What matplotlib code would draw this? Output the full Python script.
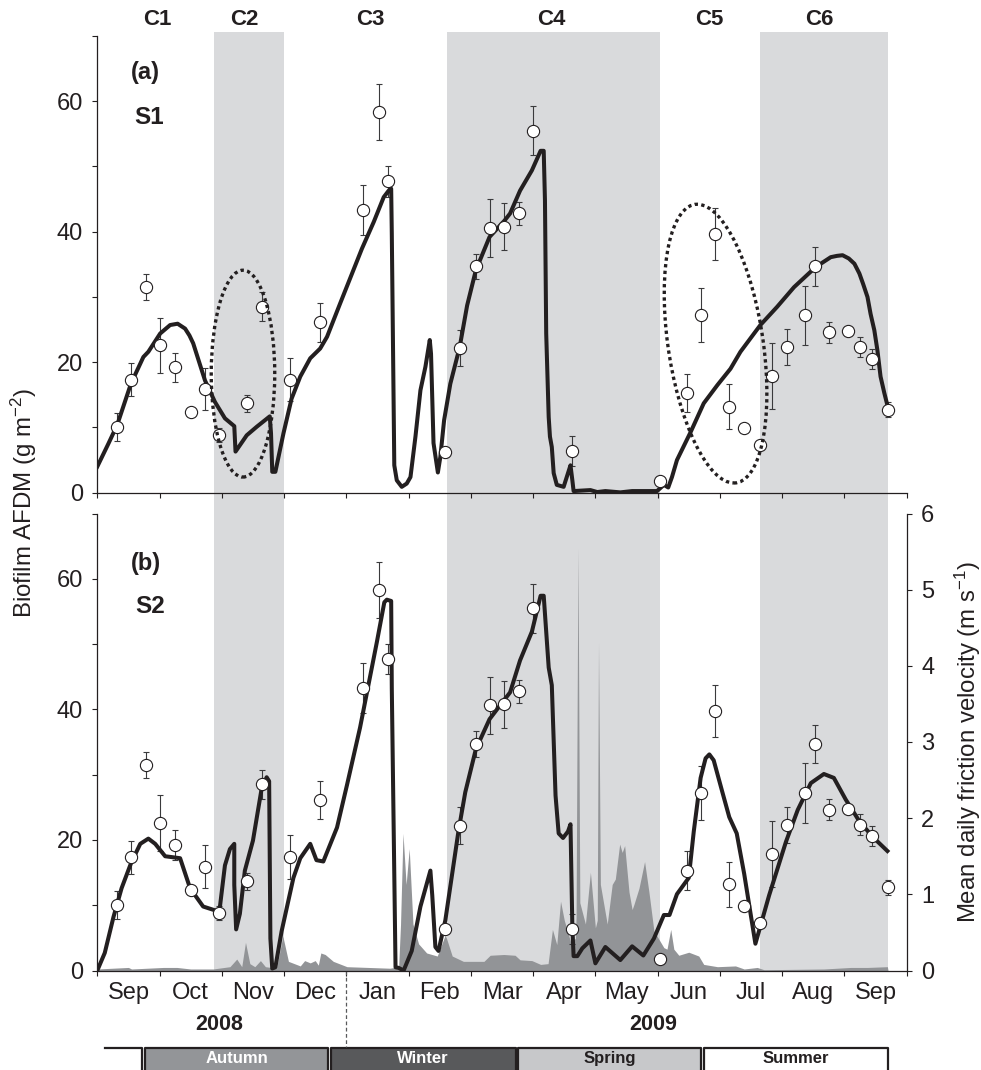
import matplotlib
matplotlib.use('Agg')
import matplotlib.pyplot as plt
from matplotlib.patches import Ellipse, Rectangle
from matplotlib.transforms import Affine2D

plt.rcParams['font.family'] = ['Liberation Sans', 'DejaVu Sans']
plt.rcParams['mathtext.default'] = 'regular'

W, H = 981, 1070
DARK = '#231f20'

# x is in months since the start of Sep 2008 (each month is drawn the same width)
month_names = ['Sep', 'Oct', 'Nov', 'Dec', 'Jan', 'Feb', 'Mar', 'Apr', 'May', 'Jun', 'Jul', 'Aug', 'Sep']

# observed biofilm, same points in both panels
obs_x = [0.32, 0.54, 0.79, 1.01, 1.24, 1.50, 1.73, 1.96, 2.41, 2.65, 3.10, 3.57, 4.26, 4.52, 4.67,
         5.59, 5.82, 6.08, 6.30, 6.54, 6.78, 7.00, 7.63, 9.04, 9.47, 9.69, 9.92, 10.14, 10.39, 10.64,
         10.84, 11.07, 11.36, 11.53, 11.76, 12.05, 12.25, 12.45, 12.70]
obs_y = [10.05, 17.35, 31.5, 22.6, 19.2, 12.35, 15.9, 8.8, 13.7, 28.5, 17.35, 26.1, 43.3, 58.3, 47.7,
         6.3, 22.2, 34.7, 40.6, 40.8, 42.8, 55.5, 6.4, 1.8, 15.3, 27.2, 39.7, 13.2, 9.95, 7.25,
         17.85, 22.35, 27.2, 34.7, 24.6, 24.75, 22.35, 20.55, 12.75]
obs_err = [2.2, 2.55, 1.95, 4.25, 2.25, 0, 3.25, 1.1, 1.3, 2.2, 3.35, 2.95, 3.8, 4.3, 2.35,
           0, 2.8, 1.95, 4.4, 3.6, 1.75, 3.75, 2.3, 0, 2.95, 4.15, 4.0, 3.4, 0, 0,
           5.05, 2.75, 4.55, 2.95, 1.6, 0, 1.55, 1.55, 1.15]

# modelled curve, site S1
s1_x = [0, 0.18, 0.32, 0.54, 0.74, 0.82, 1.01, 1.17, 1.29, 1.41, 1.48, 1.54, 1.73, 1.89, 2.05, 2.20, 2.22, 2.40, 2.56,
        2.77, 2.79, 2.81, 2.86, 2.99, 3.12, 3.26, 3.42, 3.58, 3.69, 3.90, 4.25, 4.44, 4.60, 4.68, 4.72,
        4.73, 4.77, 4.81, 4.89, 4.97, 5.03, 5.11, 5.19, 5.27, 5.34, 5.36, 5.40, 5.47, 5.51, 5.57, 5.67,
        5.82, 5.94, 6.08, 6.30, 6.54, 6.63, 6.79, 6.98, 7.12, 7.17, 7.19, 7.21, 7.25, 7.27, 7.30, 7.33,
        7.38, 7.49, 7.56, 7.60, 7.63, 7.65, 7.92, 8.03, 8.16, 8.40, 8.59, 8.99, 9.10, 9.17, 9.23, 9.31,
        9.53, 9.74, 9.96, 10.17, 10.33, 10.65, 10.92, 11.19, 11.54, 11.78, 11.88, 11.97, 12.07, 12.16, 12.24, 12.30,
        12.37, 12.42, 12.48, 12.53, 12.58, 12.64, 12.69]
s1_y = [4.0, 7.55, 10.4, 16.7, 20.8, 21.6, 24.4, 25.7, 25.9, 25.15, 24.1, 22.9, 17.2, 13.9, 11.4, 10.2, 6.3, 8.8, 10.1,
        11.7, 9.1, 3.2, 3.2, 9.1, 14.4, 17.8, 20.6, 22.1, 23.9, 29.0, 37.4, 41.5, 45.3, 46.3, 46.6,
        39.7, 4.2, 1.9, 0.9, 1.4, 2.4, 8.6, 15.7, 19.3, 23.4, 21.3, 7.6, 3.1, 5.5, 11.1, 16.7,
        22.3, 28.7, 34.1, 39.2, 41.7, 42.8, 46.3, 49.4, 52.4, 52.4, 44.8, 24.4, 11.6, 8.6, 7.0, 3.0,
        1.2, 0.9, 3.0, 4.2, 1.9, 0.25, 0.4, 0.1, 0.25, 0.05, 0.25, 0.25, 1.2, 0.8, 2.4, 5.0,
        9.3, 13.7, 16.5, 19.0, 21.6, 25.7, 28.5, 31.5, 34.6, 36.1, 36.3, 36.4, 35.9, 35.1, 33.6, 32.0,
        30.0, 27.4, 24.9, 21.8, 17.8, 15.3, 13.4]

# modelled curve, site S2
s2_x = [0, 0.12, 0.26, 0.39, 0.54, 0.69, 0.82, 0.93, 1.09, 1.33, 1.49, 1.70, 1.96, 2.05, 2.13, 2.20, 2.20,
        2.23, 2.29, 2.37, 2.50, 2.64, 2.72, 2.76, 2.78, 2.81, 2.86, 2.96, 3.15, 3.26, 3.42, 3.52, 3.63,
        3.85, 4.01, 4.22, 4.49, 4.61, 4.65, 4.72, 4.73, 4.79, 4.84, 4.92, 5.05, 5.19, 5.35, 5.38, 5.43,
        5.48, 5.59, 5.80, 5.91, 6.08, 6.30, 6.54, 6.63, 6.79, 6.98, 7.12, 7.17, 7.25, 7.30, 7.36, 7.41,
        7.48, 7.56, 7.60, 7.63, 7.65, 7.71, 7.79, 7.92, 8.00, 8.16, 8.40, 8.59, 8.77, 8.94, 9.10, 9.19,
        9.31, 9.50, 9.58, 9.69, 9.77, 9.83, 9.90, 10.04, 10.15, 10.27, 10.39, 10.57, 10.79, 11.06, 11.25,
        11.46, 11.67, 11.83, 12.02, 12.23, 12.45, 12.69]
s2_y = [0, 2.7, 8.2, 12.6, 16.4, 19.4, 20.2, 19.4, 17.5, 17.2, 12.6, 9.8, 9.0, 16.1, 18.6, 19.4, 13.1,
        6.3, 8.7, 15.3, 19.9, 27.9, 29.6, 29.0, 4.9, 0.3, 0.5, 6.0, 14.2, 17.2, 19.4, 16.9, 16.7,
        21.9, 28.4, 37.2, 50.3, 56.4, 56.8, 56.6, 43.2, 0.5, 0.4, 0, 3.0, 9.8, 15.3, 11.5, 3.6,
        3.0, 7.7, 21.3, 27.3, 33.9, 38.5, 41.5, 42.6, 47.5, 51.9, 57.4, 57.4, 46.4, 43.7, 26.8, 21.0,
        20.3, 21.3, 22.4, 6.6, 2.2, 2.2, 3.4, 4.6, 1.1, 3.6, 1.6, 3.7, 2.3, 4.9, 8.5, 8.5,
        11.7, 14.2, 21.3, 29.5, 32.5, 33.1, 32.2, 27.3, 23.5, 21.0, 14.8, 4.1, 11.5, 19.7, 24.6,
        28.7, 30.1, 29.5, 26.2, 23.0, 20.5, 18.3]

# mean daily friction velocity, right axis of the lower panel
fric_x = [0, 0.5, 0.55, 1.06, 1.28, 1.5, 1.86, 2.13, 2.24, 2.32, 2.38, 2.45, 2.53, 2.62, 2.70, 2.88, 2.98,
          3.07, 3.26, 3.33, 3.42, 3.50, 3.55, 3.59, 3.66, 3.79, 4.01, 4.70, 4.84, 4.87, 4.91, 4.96, 5.01,
          5.07, 5.16, 5.29, 5.46, 5.59, 5.70, 5.88, 6.21, 6.31, 6.53, 6.71, 6.79, 6.98, 7.12, 7.24, 7.31,
          7.38, 7.44, 7.50, 7.60, 7.68, 7.69, 7.72, 7.75, 7.84, 7.92, 8.00, 8.03, 8.05, 8.08, 8.19, 8.27,
          8.32, 8.39, 8.43, 8.47, 8.54, 8.59, 8.62, 8.70, 8.79, 8.86, 8.94, 9.10, 9.15, 9.21, 9.26, 9.34,
          9.50, 9.66, 9.74, 9.96, 10.25, 10.39, 10.60, 10.71, 11.67, 12.10, 12.37, 12.69, 12.70]
fric_y = [0.02, 0.04, 0.02, 0.04, 0.04, 0.02, 0.02, 0.05, 0.15, 0.05, 0.37, 0.09, 0.05, 0.13, 0.05, 0.03, 0.45,
          0.12, 0.06, 0.13, 0.10, 0.13, 0.07, 0.23, 0.21, 0.12, 0.05, 0.03, 0.05, 0.6, 1.8, 1.13, 1.6,
          0.61, 0.35, 0.23, 0.19, 0.47, 0.19, 0.12, 0.12, 0.20, 0.21, 0.20, 0.14, 0.13, 0.08, 0.09, 0.54,
          0.34, 0.91, 0.66, 0.38, 0.42, 0.70, 5.55, 0.89, 0.61, 1.29, 0.56, 0.66, 4.31, 1.13, 0.61, 1.13,
          1.20, 1.66, 1.55, 1.64, 1.03, 0.80, 0.87, 1.08, 1.43, 1.03, 0.52, 0.30, 0.28, 0.54, 0.28, 0.20,
          0.24, 0.19, 0.08, 0.05, 0.06, 0.02, 0.04, 0.01, 0.02, 0.04, 0.04, 0.05, 0]

# shaded colonisation cycles and their names
band_edges = [(1.87, 3.0), (5.61, 9.03), (10.64, 12.70)]
cycle_names = ['C1', 'C2', 'C3', 'C4', 'C5', 'C6']
cycle_x = [0.97, 2.36, 4.38, 7.29, 9.83, 11.6]

# seasons strip under the chart
season_names = ['Autumn', 'Winter', 'Spring', 'Summer']
season_start = [0.767, 3.75, 6.76, 9.75]
season_end = [3.71, 6.72, 9.70, 12.70]
season_fill = ['#939598', '#58595b', '#c7c8ca', '#ffffff']
season_text = ['white', 'white', DARK, DARK]


def make_axes(top, bottom):
    # positions given in pixels from the top of the picture
    return fig.add_axes([97.3 / W, 1 - bottom / H, (906.7 - 97.3) / W, (bottom - top) / H])


def style_panel(ax, labels):
    ax.patch.set_visible(False)
    ax.set_xlim(0, 13)
    ax.set_ylim(0, 70)
    for s in ['top', 'right']:
        ax.spines[s].set_visible(False)
    for s in ['left', 'bottom']:
        ax.spines[s].set_linewidth(0.9)
        ax.spines[s].set_color(DARK)
    ax.set_yticks([0, 20, 40, 60])
    ax.set_yticks([10, 30, 50, 70], minor=True)
    ax.set_xticks(range(14))
    ax.set_xticklabels([])
    ax.tick_params(axis='y', which='both', length=3.8, width=0.8, color=DARK, labelcolor=DARK,
                   labelsize=17, pad=6.5)
    ax.tick_params(axis='x', which='major', length=3.8, width=0.8, color=DARK)
    if labels:
        ax.set_xticks([m + 0.5 for m in range(13)], minor=True)
        ax.set_xticklabels(month_names, minor=True)
        ax.tick_params(axis='x', which='minor', length=0, labelcolor=DARK, labelsize=17, pad=8)


def draw_series(ax, curve_x, curve_y):
    ax.plot(curve_x, curve_y, color='#231f20', lw=2.9, solid_joinstyle='round', zorder=3)
    ax.errorbar(obs_x, obs_y, yerr=obs_err, fmt='none', ecolor='#3a3a3c', elinewidth=0.8,
                capsize=2.0, capthick=0.8, zorder=2)
    ax.plot(obs_x, obs_y, ls='none', marker='o', ms=8.8, mfc='white', mec=DARK, mew=0.8, zorder=4)


fig = plt.figure(figsize=(W / 100, H / 100), dpi=100, facecolor='white')

# grey bands run through both panels, so they sit on their own axes behind them
axbg = make_axes(32, 970.5)
axbg.set_xlim(0, 13)
axbg.axis('off')
for b in band_edges:
    axbg.axvspan(b[0], b[1], color='#d9dadc', lw=0)

ax1 = make_axes(36, 492.7)
ax2 = make_axes(513.5, 970.5)
style_panel(ax1, False)
style_panel(ax2, True)

draw_series(ax1, s1_x, s1_y)
draw_series(ax2, s2_x, s2_y)

# friction velocity goes on a twin axis, below the biofilm curve
axr = ax2.twinx()
axr.patch.set_visible(False)
axr.fill_between(fric_x, 0, fric_y, color='#929497', lw=0)
axr.set_ylim(0, 6)
axr.set_yticks(range(7))
axr.tick_params(axis='y', length=3.8, width=0.8, color=DARK, labelcolor=DARK, labelsize=17, pad=6.5)
for s in ['top', 'left', 'bottom']:
    axr.spines[s].set_visible(False)
axr.spines['right'].set_linewidth(0.9)
axr.spines['right'].set_color(DARK)
ax2.set_zorder(axr.get_zorder() + 1)

# dotted ellipses round cycles C2 and C5 (unit circle through an affine map)
ell1 = Ellipse((0, 0), 2, 2, fill=False, ec=DARK, lw=2.4, ls=(0, (1, 1)), zorder=5,
               transform=Affine2D.from_values(0.51, 0, 0, 15.85, 2.34, 18.25) + ax1.transData)
ell2 = Ellipse((0, 0), 2, 2, fill=False, ec=DARK, lw=2.4, ls=(0, (1, 1)), zorder=5,
               transform=Affine2D.from_values(0.77, 0, -0.294, 21.36, 9.93, 22.85) + ax1.transData)
ax1.add_patch(ell1)
ax1.add_patch(ell2)

# panel and cycle names
ax1.text(0.77, 64.4, '(a)', fontsize=17, fontweight='bold', color=DARK, ha='center', va='center')
ax1.text(0.83, 57.5, 'S1', fontsize=17.5, fontweight='bold', color=DARK, ha='center', va='center')
ax2.text(0.78, 62.4, '(b)', fontsize=17, fontweight='bold', color=DARK, ha='center', va='center')
ax2.text(0.85, 55.7, 'S2', fontsize=17.5, fontweight='bold', color=DARK, ha='center', va='center')
for name, x in zip(cycle_names, cycle_x):
    ax1.text(x, 72.6, name, fontsize=16, fontweight='bold', color=DARK, ha='center', va='center', clip_on=False)

# years and the dashed line between them
ax2.text(1.96, -8.2, '2008', fontsize=15.5, fontweight='bold', color=DARK, ha='center', va='center')
ax2.text(8.93, -8.2, '2009', fontsize=15.5, fontweight='bold', color=DARK, ha='center', va='center')
ax2.plot([4, 4], [0, -11.7], color='#58595b', lw=0.9, ls=(0, (3, 2)), clip_on=False)
ax2.set_ylim(0, 70)

fig.text(24 / W, 1 - 503 / H, 'Biofilm AFDM (g m$^{-2}$)', rotation=90, fontsize=17.3, color=DARK,
         ha='center', va='center')
fig.text(968 / W, 1 - 742 / H, 'Mean daily friction velocity (m s$^{-1}$)', rotation=90, fontsize=17.3,
         color=DARK, ha='center', va='center')

# seasons strip, cut off by the bottom of the picture as in the original
axs = make_axes(1047.5, 1070)
axs.set_xlim(0, 13)
axs.set_ylim(0, 1)
axs.axis('off')
axs.plot([0.12, 0.71, 0.71], [1, 1, 0], color=DARK, lw=1.6, clip_on=False)
for i in range(len(season_names)):
    axs.add_patch(Rectangle((season_start[i], 0), season_end[i] - season_start[i], 1.5,
                            fc=season_fill[i], ec='none'))
    axs.plot([season_start[i], season_start[i], season_end[i], season_end[i]], [0, 1, 1, 0],
             color=DARK, lw=1.6, clip_on=False)
    axs.text((season_start[i] + season_end[i]) / 2, 0.5, season_names[i], fontsize=12, fontweight='bold',
             color=season_text[i], ha='center', va='center')

plt.savefig('out.png', dpi=100)
